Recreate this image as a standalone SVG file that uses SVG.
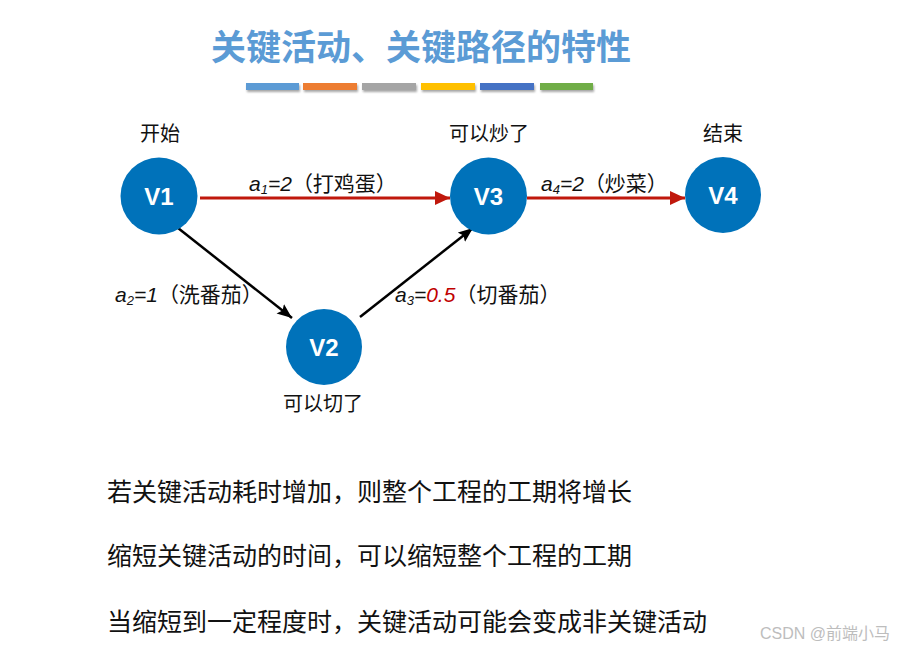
<svg xmlns="http://www.w3.org/2000/svg" width="900" height="648" viewBox="0 0 900 648">
<style>
.title{font-family:"Noto Sans CJK SC","Liberation Sans",sans-serif;font-size:35px;font-weight:bold;fill:#5B9BD5}
.node{fill:#0072BA}
.nt{font-family:"Liberation Sans","Noto Sans CJK SC",sans-serif;font-size:24px;font-weight:bold;fill:#fff;text-anchor:middle}
.cap{font-family:"Noto Sans CJK SC",sans-serif;font-size:20px;fill:#111;text-anchor:middle}
.lbl{font-family:"Liberation Sans","Noto Sans CJK SC",sans-serif;font-size:21px;fill:#111}
.it{font-style:italic}
.sub{font-size:13px;font-style:italic}
.body{font-family:"Noto Sans CJK SC",sans-serif;font-size:25px;fill:#111}
.red{stroke:#C0180C;stroke-width:3;fill:none}
.blk{stroke:#000;stroke-width:2.5;fill:none}
</style>
<defs>
<filter id="sh" x="-10%" y="-50%" width="120%" height="250%">
<feDropShadow dx="1" dy="2" stdDeviation="1.2" flood-color="#000" flood-opacity="0.35"/>
</filter>
<marker id="ar" markerUnits="userSpaceOnUse" markerWidth="16" markerHeight="14" refX="15" refY="7" orient="auto">
<path d="M0,0 L15,7 L0,14 Z" fill="#C0180C"/>
</marker>
<marker id="ab" markerUnits="userSpaceOnUse" markerWidth="16" markerHeight="14" refX="15" refY="6" orient="auto">
<path d="M0,0 L15,6 L0,12 L3,6 Z" fill="#000"/>
</marker>
</defs>
<rect width="900" height="648" fill="#fff"/>
<g id="title">
<text class="title" x="211" y="60">关键活动、关键路径的特性</text>
<g filter="url(#sh)">
<rect x="246" y="83" width="53" height="7" fill="#5B9BD5"/>
<rect x="303" y="83" width="54" height="7" fill="#ED7D31"/>
<rect x="362" y="83" width="54" height="7" fill="#A5A5A5"/>
<rect x="421" y="83" width="54" height="7" fill="#FFC000"/>
<rect x="480" y="83" width="54" height="7" fill="#4472C4"/>
<rect x="540" y="83" width="53" height="7" fill="#70AD47"/>
</g>
</g>
<g id="connectors">
<line class="red" x1="200" y1="198" x2="450" y2="198" marker-end="url(#ar)"/>
<line class="red" x1="527" y1="198" x2="685" y2="198" marker-end="url(#ar)"/>
<line class="blk" x1="178" y1="228" x2="292" y2="318" marker-end="url(#ab)"/>
<line class="blk" x1="360" y1="317" x2="473" y2="228" marker-end="url(#ab)"/>
<text class="lbl" x="249" y="191"><tspan class="it">a</tspan><tspan class="sub" dy="3">1</tspan><tspan class="it" dy="-3">=2</tspan>（打鸡蛋）</text>
<text class="lbl" x="541" y="191"><tspan class="it">a</tspan><tspan class="sub" dy="3">4</tspan><tspan class="it" dy="-3">=2</tspan>（炒菜）</text>
<text class="lbl" x="115" y="302"><tspan class="it">a</tspan><tspan class="sub" dy="3">2</tspan><tspan class="it" dy="-3">=1</tspan>（洗番茄）</text>
<text class="lbl" x="395" y="302"><tspan class="it">a</tspan><tspan class="sub" dy="3">3</tspan><tspan class="it" dy="-3">=</tspan><tspan class="it" fill="#C00000">0.5</tspan>（切番茄）</text>
</g>
<g id="V1">
<circle class="node" cx="159" cy="196" r="38.5"/>
<text class="nt" x="159" y="205">V1</text>
<text class="cap" x="160" y="141">开始</text>
</g>
<g id="V3">
<circle class="node" cx="488.5" cy="196" r="38.5"/>
<text class="nt" x="488.5" y="205">V3</text>
<text class="cap" x="489" y="141">可以炒了</text>
</g>
<g id="V4">
<circle class="node" cx="723" cy="195" r="38"/>
<text class="nt" x="723" y="204">V4</text>
<text class="cap" x="723" y="141">结束</text>
</g>
<g id="V2">
<circle class="node" cx="324" cy="347" r="38"/>
<text class="nt" x="324" y="356">V2</text>
<text class="cap" x="323" y="411">可以切了</text>
</g>
<g id="notes">
<text class="body" x="107" y="501">若关键活动耗时增加，则整个工程的工期将增长</text>
<text class="body" x="107" y="565">缩短关键活动的时间，可以缩短整个工程的工期</text>
<text class="body" x="107" y="631">当缩短到一定程度时，关键活动可能会变成非关键活动</text>
</g>
<text x="760" y="639" font-family="'Liberation Sans','Noto Sans CJK SC',sans-serif" font-size="16" fill="#BDBDBD">CSDN @前端小马</text>
</svg>
